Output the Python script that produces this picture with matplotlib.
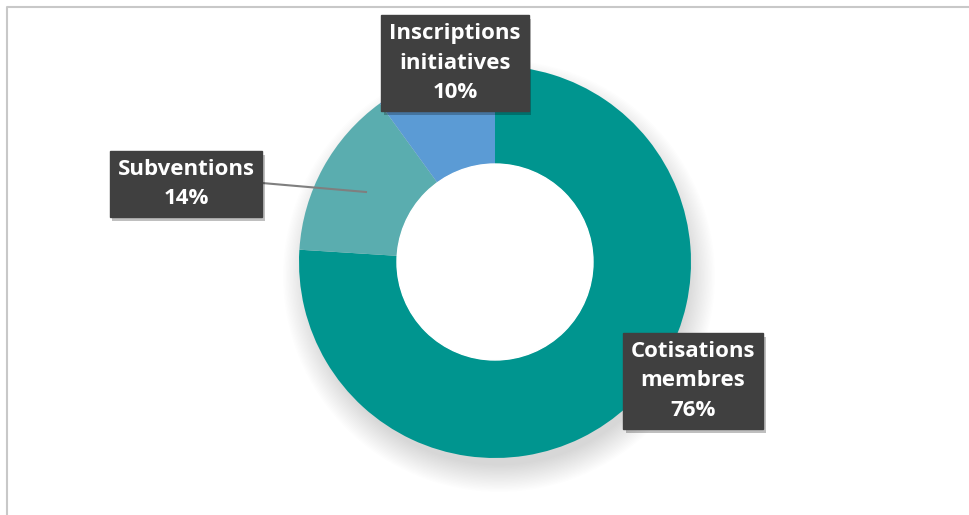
import matplotlib.pyplot as plt
from matplotlib.patches import Circle
import matplotlib.patheffects as pe

# ===============================
# Données
# ===============================
labels = ["Cotisations\nmembres", "Subventions", "Inscriptions\ninitiatives"]
values = [76, 14, 10]
colors = ["#00958F", "#5AADAF", "#5B9BD5"]

W, H = 970, 515

fig = plt.figure(figsize=(W / 100, H / 100), dpi=100)
ax = fig.add_axes([0, 0, 1, 1])

# cadre gris clair
ax.plot([7, 7, W + 5], [-5, H - 7, H - 7], color="#c8c8c8", lw=1.5)

cx, cy, r = 495, 253, 196

# ombre douce sous l'anneau
for i in range(20):
    rr = r + 20 - i * 1.4
    ax.add_patch(Circle((cx + 4, cy - 14), rr, color="black", alpha=0.007, lw=0, zorder=1))

wedges, _ = ax.pie(values, colors=colors, startangle=90, counterclock=False,
                   center=(cx, cy), radius=r, frame=True,
                   wedgeprops=dict(width=r * 0.5, edgecolor="none", zorder=2))
ax.set_xlim(0, W)
ax.set_ylim(0, H)
ax.set_aspect("equal")
ax.axis("off")
ax.add_patch(Circle((cx, cy), r * 0.5, color="white", zorder=3))

# ===============================
# Étiquettes
# ===============================
label_pos = [(693, 134), (186, 331), (455, 452)]
for lab, v, (x, y) in zip(labels, values, label_pos):
    t = ax.text(x, y, f"{lab}\n{v}%", ha="center", va="center", color="white",
                fontsize=16, fontweight="bold", family="Open Sans",
                linespacing=1.55, zorder=6,
                bbox=dict(boxstyle="square,pad=0.35", fc="#404040", ec="#404040"))
    t.get_bbox_patch().set_path_effects([
        pe.SimplePatchShadow(offset=(2, -3), shadow_rgbFace="black", alpha=0.25),
        pe.Normal()])

# ligne de rappel Subventions
ax.plot([262, 366], [332, 323], color="#7f7f7f", lw=1.5, zorder=5)

fig.savefig("out.png", dpi=100)
